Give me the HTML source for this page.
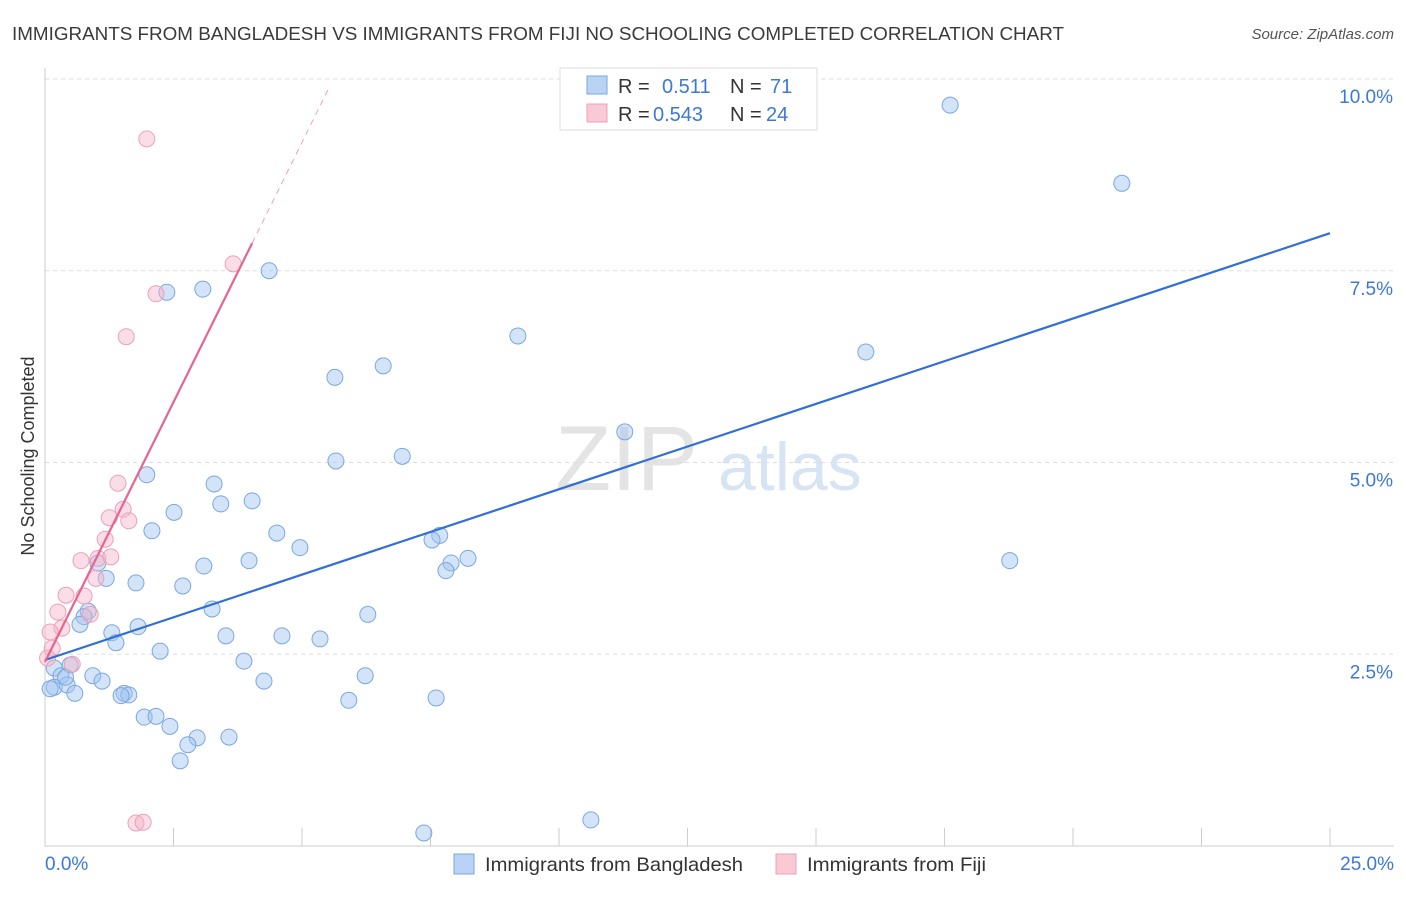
<!DOCTYPE html>
<html><head><meta charset="utf-8"><style>
body{margin:0;background:#fff;font-family:"Liberation Sans",sans-serif;}
svg text{font-family:"Liberation Sans",sans-serif;}
</style></head><body>
<svg id="chart" width="1406" height="892" viewBox="0 0 1406 892" xmlns="http://www.w3.org/2000/svg">
<text x="12" y="40" font-size="18.5" fill="#3a3a3a" textLength="1052" lengthAdjust="spacingAndGlyphs">IMMIGRANTS FROM BANGLADESH VS IMMIGRANTS FROM FIJI NO SCHOOLING COMPLETED CORRELATION CHART</text>
<text x="1394" y="39" font-size="15" fill="#555" text-anchor="end" font-style="italic">Source: ZipAtlas.com</text>
<text x="555" y="490" font-size="92" fill="#e4e4e4" font-family="Liberation Serif">ZIP</text>
<text x="718" y="490" font-size="68" fill="#d7e4f4">atlas</text>
<text transform="translate(34,456) rotate(-90)" font-size="18" fill="#333" text-anchor="middle">No Schooling Completed</text>
<g id="grid"></g><g id="axes"></g><g id="marks"></g>
<g>
<rect x="560" y="68" width="257" height="62" fill="#fff" stroke="#ddd"/>
<rect x="587" y="76" width="20" height="18" fill="#b9d3f5" stroke="#7aa7e0"/>
<rect x="587" y="104" width="20" height="18" fill="#f9c9d6" stroke="#eea0b8"/>
<text x="618" y="93" font-size="20" fill="#333">R =</text>
<text x="662" y="93" font-size="20" fill="#3b78d8">0.511</text>
<text x="730" y="93" font-size="20" fill="#333">N =</text>
<text x="770" y="93" font-size="20" fill="#3b78d8">71</text>
<text x="618" y="121" font-size="20" fill="#333">R =</text>
<text x="653" y="121" font-size="20" fill="#3b78d8">0.543</text>
<text x="730" y="121" font-size="20" fill="#333">N =</text>
<text x="766" y="121" font-size="20" fill="#3b78d8">24</text>
</g>
<g>
<rect x="454" y="854" width="20" height="20" fill="#b9d3f5" stroke="#7aa7e0"/>
<text x="485" y="871" font-size="19.5" fill="#333" textLength="258" lengthAdjust="spacingAndGlyphs">Immigrants from Bangladesh</text>
<rect x="776" y="854" width="20" height="20" fill="#f9c9d6" stroke="#eea0b8"/>
<text x="807" y="871" font-size="19.5" fill="#333" textLength="179" lengthAdjust="spacingAndGlyphs">Immigrants from Fiji</text>
</g>
</svg>
<script>
const xTicks=[0,2.5,5,7.5,10,12.5,15,17.5,20,22.5,25];
const yTicks=[2.5,5,7.5,10];
const yTickLabels=["2.5%","5.0%","7.5%","10.0%"];
const xEndLabels=["0.0%","25.0%"];
const bdX=[17.61,20.95,4.36,3.07,2.37,9.20,15.97,6.58,5.64,11.28,6.95,5.66,1.98,3.29,4.03,3.42,2.51,2.08,4.51,7.68,7.53,4.96,8.23,7.90,3.97,18.77,7.80,3.09,1.03,1.19,1.77,2.68,3.25,0.84,6.28,0.76,0.68,1.81,1.30,3.52,4.61,5.35,1.38,2.24,3.87,0.18,0.49,6.23,0.93,0.31,1.11,4.26,0.18,0.43,0.58,1.54,1.63,1.48,5.91,7.61,1.93,2.16,2.43,3.58,2.96,2.78,2.63,10.62,7.37,0.10,0.40];
const bdY=[9.66,8.64,7.50,7.26,7.22,6.65,6.44,6.26,6.11,5.40,5.08,5.02,4.84,4.72,4.50,4.46,4.35,4.11,4.08,4.05,3.99,3.89,3.75,3.69,3.72,3.72,3.59,3.65,3.69,3.49,3.43,3.39,3.09,3.06,3.02,2.99,2.89,2.86,2.78,2.74,2.74,2.70,2.65,2.54,2.41,2.32,2.36,2.22,2.22,2.22,2.15,2.15,2.07,2.10,1.99,1.99,1.97,1.96,1.90,1.93,1.68,1.69,1.56,1.42,1.41,1.32,1.11,0.34,0.17,2.05,2.20];
const fjX=[1.98,3.66,2.16,1.58,1.42,1.52,1.25,1.63,1.17,1.03,1.28,0.70,0.99,0.41,0.76,0.25,0.88,0.33,0.10,0.14,0.53,1.77,1.91,0.05];
const fjY=[9.22,7.59,7.20,6.64,4.73,4.39,4.28,4.24,4.00,3.75,3.77,3.72,3.49,3.27,3.26,3.05,3.02,2.84,2.79,2.58,2.37,0.30,0.31,2.45];
const bdLine=[2.425,7.99];
const fjLine=[2.40,(7.86-2.40)/4.03];
const X=v=>45+v*51.4, Y=v=>846-v*76.7;
const NS="http://www.w3.org/2000/svg";
function mk(t,a,p){const e=document.createElementNS(NS,t);for(const k in a)e.setAttribute(k,a[k]);p.appendChild(e);return e;}
const grid=document.getElementById('grid'),axes=document.getElementById('axes'),marks=document.getElementById('marks');
yTicks.forEach((t,i)=>{
 const g=mk('line',{x1:45,x2:1394,y1:Y(t),y2:Y(t),stroke:'#ddd','stroke-dasharray':'4,4'},grid);
 
 
 const l=mk('text',{x:1393,y:Y(t)+24,'font-size':19,fill:'#3b78d8','text-anchor':'end'},axes);
 l.textContent=yTickLabels[i];
 
 
});
const xa=mk('line',{x1:45,x2:1394,y1:846,y2:846,stroke:'#ccc'},axes);


const ya=mk('line',{x1:45,x2:45,y1:68,y2:846,stroke:'#ccc'},axes);


xTicks.forEach(t=>{const e=mk('line',{x1:X(t),x2:X(t),y1:828,y2:846,stroke:'#ccc'},axes);
 
 });
const l0=mk('text',{x:45,y:870,'font-size':19,fill:'#3b78d8'},axes);l0.textContent=xEndLabels[0];


const l1=mk('text',{x:1394,y:870,'font-size':19,fill:'#3b78d8','text-anchor':'end'},axes);l1.textContent=xEndLabels[1];


bdX.forEach((x,i)=>{const c=mk('circle',{cx:X(x),cy:Y(bdY[i]),r:8,fill:'rgba(160,196,240,0.45)',stroke:'#7aa7e0','stroke-width':1},marks);
 
 });
fjX.forEach((x,i)=>{const c=mk('circle',{cx:X(x),cy:Y(fjY[i]),r:8,fill:'rgba(245,180,200,0.45)',stroke:'#eea0b8','stroke-width':1},marks);
 
 });
const bl=mk('line',{x1:X(0),y1:Y(bdLine[0]),x2:X(25),y2:Y(bdLine[1]),stroke:'#2f6fd6','stroke-width':2.2},marks);


const fx=4.03, fxe=5.54;
const fl=mk('line',{x1:X(0),y1:Y(fjLine[0]),x2:X(fx),y2:Y(fjLine[0]+fjLine[1]*fx),stroke:'#e8648f','stroke-width':2.2},marks);


const fd=mk('line',{x1:X(fx),y1:Y(fjLine[0]+fjLine[1]*fx),x2:X(fxe),y2:Y(fjLine[0]+fjLine[1]*fxe),stroke:'#eea0b8','stroke-width':1,'stroke-dasharray':'6,5'},marks);


</script>
</body></html>
